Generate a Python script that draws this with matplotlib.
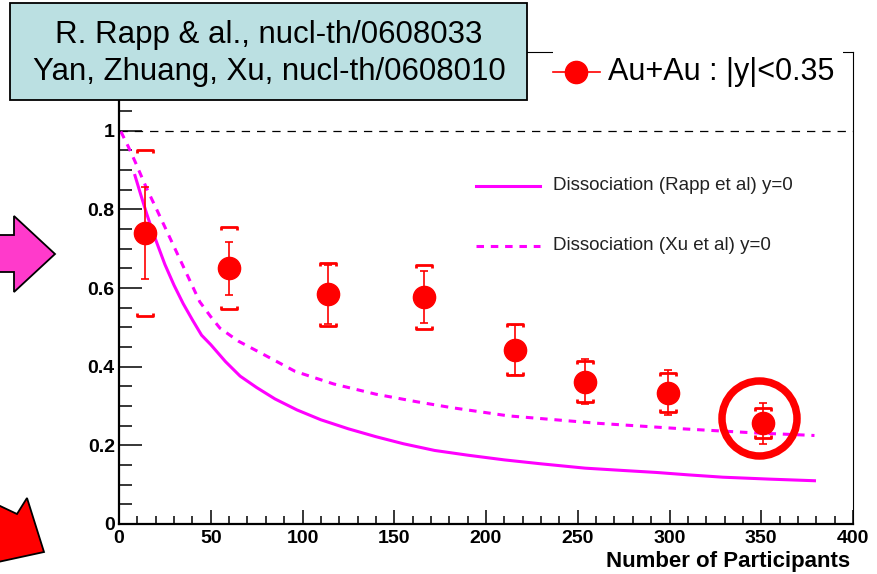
import matplotlib
matplotlib.use("Agg")
import matplotlib.pyplot as plt
from matplotlib.path import Path
from matplotlib.patches import Polygon, Rectangle
from matplotlib.lines import Line2D

plt.rcParams['font.family'] = ['Liberation Sans', 'DejaVu Sans']
plt.rcParams['lines.scale_dashes'] = False

# data
npart = [14, 60, 114, 166, 216, 254, 299, 351]
raa = [0.740, 0.650, 0.584, 0.577, 0.443, 0.362, 0.334, 0.256]
stat_err = [0.118, 0.068, 0.075, 0.066, 0.063, 0.058, 0.057, 0.052]
syst_err = [0.210, 0.104, 0.080, 0.082, 0.065, 0.052, 0.050, 0.038]

# Rapp et al. dissociation curve
rapp_n = [8.7, 12, 15, 18, 21, 25, 30, 35, 40, 45, 50, 58, 66, 75, 85, 97, 110, 125, 140,
          155, 172, 190, 210, 230, 254, 275, 293, 310, 329, 355, 379]
rapp_r = [0.886, 0.835, 0.790, 0.748, 0.710, 0.660, 0.607, 0.560, 0.519, 0.480, 0.456, 0.413,
          0.376, 0.347, 0.318, 0.290, 0.265, 0.242, 0.222, 0.204, 0.187, 0.175, 0.163, 0.153,
          0.142, 0.136, 0.131, 0.125, 0.119, 0.114, 0.110]

# Xu et al. dissociation curve
xu_n = [1, 5, 8.7, 15, 21, 26, 32, 38, 44, 50, 55, 65, 78, 96, 117, 140, 162, 181, 212, 261,
        307, 345, 379]
xu_r = [0.998, 0.960, 0.922, 0.854, 0.795, 0.745, 0.685, 0.625, 0.565, 0.527, 0.498, 0.465,
        0.433, 0.388, 0.356, 0.330, 0.311, 0.296, 0.275, 0.256, 0.242, 0.232, 0.225]

xticks = [0, 50, 100, 150, 200, 250, 300, 350, 400]
yticks = [0, 0.2, 0.4, 0.6, 0.8, 1.0]
yticklabels = ['0', '0.2', '0.4', '0.6', '0.8', '1']

W, H = 878, 574


def px(x, y):
    # pixel position -> figure fraction
    return x / W, 1 - y / H


fig = plt.figure(figsize=(W / 100, H / 100), dpi=100)
ax = fig.add_axes([119 / W, 1 - 524 / H, 734 / W, 472 / H])
ax.set_xlim(0, 400)
ax.set_ylim(0, 1.2)

magenta = '#ff00ff'
red = '#ff0000'

# reference line at 1
ax.axhline(1.0, color='black', lw=0.9, dashes=(6, 5), zorder=1)

ax.plot(rapp_n, rapp_r, color=magenta, lw=2.2, zorder=2)
ax.plot(xu_n, xu_r, color=magenta, lw=2.2, dashes=(5.4, 4.9), zorder=2)

# systematic brackets
top_br = Path([(-1, -0.4), (-1, 0), (1, 0), (1, -0.4)],
              [Path.MOVETO, Path.LINETO, Path.LINETO, Path.LINETO])
bot_br = Path([(-1, 0.4), (-1, 0), (1, 0), (1, 0.4)],
              [Path.MOVETO, Path.LINETO, Path.LINETO, Path.LINETO])
hi = [r + s for r, s in zip(raa, syst_err)]
lo = [r - s for r, s in zip(raa, syst_err)]
ax.plot(npart, hi, ls='none', marker=top_br, ms=12, mfc='none', mec=red, mew=2.0, zorder=3)
ax.plot(npart, lo, ls='none', marker=bot_br, ms=12, mfc='none', mec=red, mew=2.0, zorder=3)

ax.errorbar(npart, raa, yerr=stat_err, fmt='o', color=red, ms=16, elinewidth=1.2,
            capsize=2.8, capthick=1.2, zorder=4)

# highlight circle around the most central point
ax.plot([349], [0.269], marker='o', ms=54, mfc='none', mec=red, mew=5.4, zorder=5,
        clip_on=False)

# axes style
for side in ['left', 'bottom']:
    ax.spines[side].set_linewidth(1.6)
for side in ['right', 'top']:
    ax.spines[side].set_linewidth(0.8)
ax.set_xticks(xticks)
ax.set_xticks(range(0, 401, 10), minor=True)
ax.set_yticks(yticks)
ax.set_yticklabels(yticklabels)
ax.set_yticks([i * 0.05 for i in range(25)], minor=True)
ax.tick_params(axis='both', which='both', direction='in', top=False, right=False,
               width=1.1, labelsize=14)
ax.tick_params(axis='y', which='major', length=16.5, pad=3)
ax.tick_params(axis='y', which='minor', length=9)
ax.tick_params(axis='x', which='major', length=10.3, pad=4)
ax.tick_params(axis='x', which='minor', length=5.5)
for lab in ax.get_xticklabels() + ax.get_yticklabels():
    lab.set_fontweight('bold')

fig.text(*px(850, 562), 'Number of Participants', ha='right', va='center',
         fontsize=16, fontweight='bold')

# curve legend
fig.add_artist(Line2D([476 / W, 540 / W], [px(0, 186)[1]] * 2, color=magenta, lw=2.2))
fig.text(*px(553, 186), 'Dissociation (Rapp et al) y=0', ha='left', va='center',
         fontsize=13.5, color='#222222')
fig.add_artist(Line2D([476 / W, 540 / W], [px(0, 246)[1]] * 2, color=magenta, lw=2.2,
                      dashes=(5.4, 4.9)))
fig.text(*px(553, 246), 'Dissociation (Xu et al) y=0', ha='left', va='center',
         fontsize=13.5, color='#222222')

# data legend on top of frame
fig.add_artist(Rectangle(px(553, 100), 290 / W, 58 / H, facecolor='white',
                         edgecolor='none', zorder=6))
fig.add_artist(Line2D([553 / W, 600 / W], [px(0, 72)[1]] * 2, color=red, lw=1.2, zorder=7))
fig.add_artist(Line2D([576 / W], [px(0, 72)[1]], color=red, marker='o', ms=16, zorder=7))
fig.text(*px(608, 72), 'Au+Au : |y|<0.35', ha='left', va='center', fontsize=22, zorder=7)

# reference box
fig.add_artist(Rectangle(px(10, 100), 517 / W, 97 / H, facecolor='#bbe0e2',
                         edgecolor='black', lw=1.3, zorder=8))
fig.text(*px(269, 35), 'R. Rapp & al., nucl-th/0608033', ha='center', va='center',
         fontsize=22.5, zorder=9)
fig.text(*px(269, 72), 'Yan, Zhuang, Xu, nucl-th/0608010', ha='center', va='center',
         fontsize=22.5, zorder=9)

# arrows
pink_arrow = [(-2, 235), (14, 235), (14, 216), (55, 254), (14, 292), (14, 272), (-2, 272)]
fig.add_artist(Polygon([px(x, y) for x, y in pink_arrow], closed=True,
                       facecolor='#ff3acb', edgecolor='black', lw=1.3, zorder=8))
red_arrow = [(-2, 505), (17, 514), (27, 498), (44, 552), (-2, 562)]
fig.add_artist(Polygon([px(x, y) for x, y in red_arrow], closed=True,
                       facecolor=red, edgecolor='black', lw=1.3, zorder=8))

fig.savefig('out.png', dpi=100)
